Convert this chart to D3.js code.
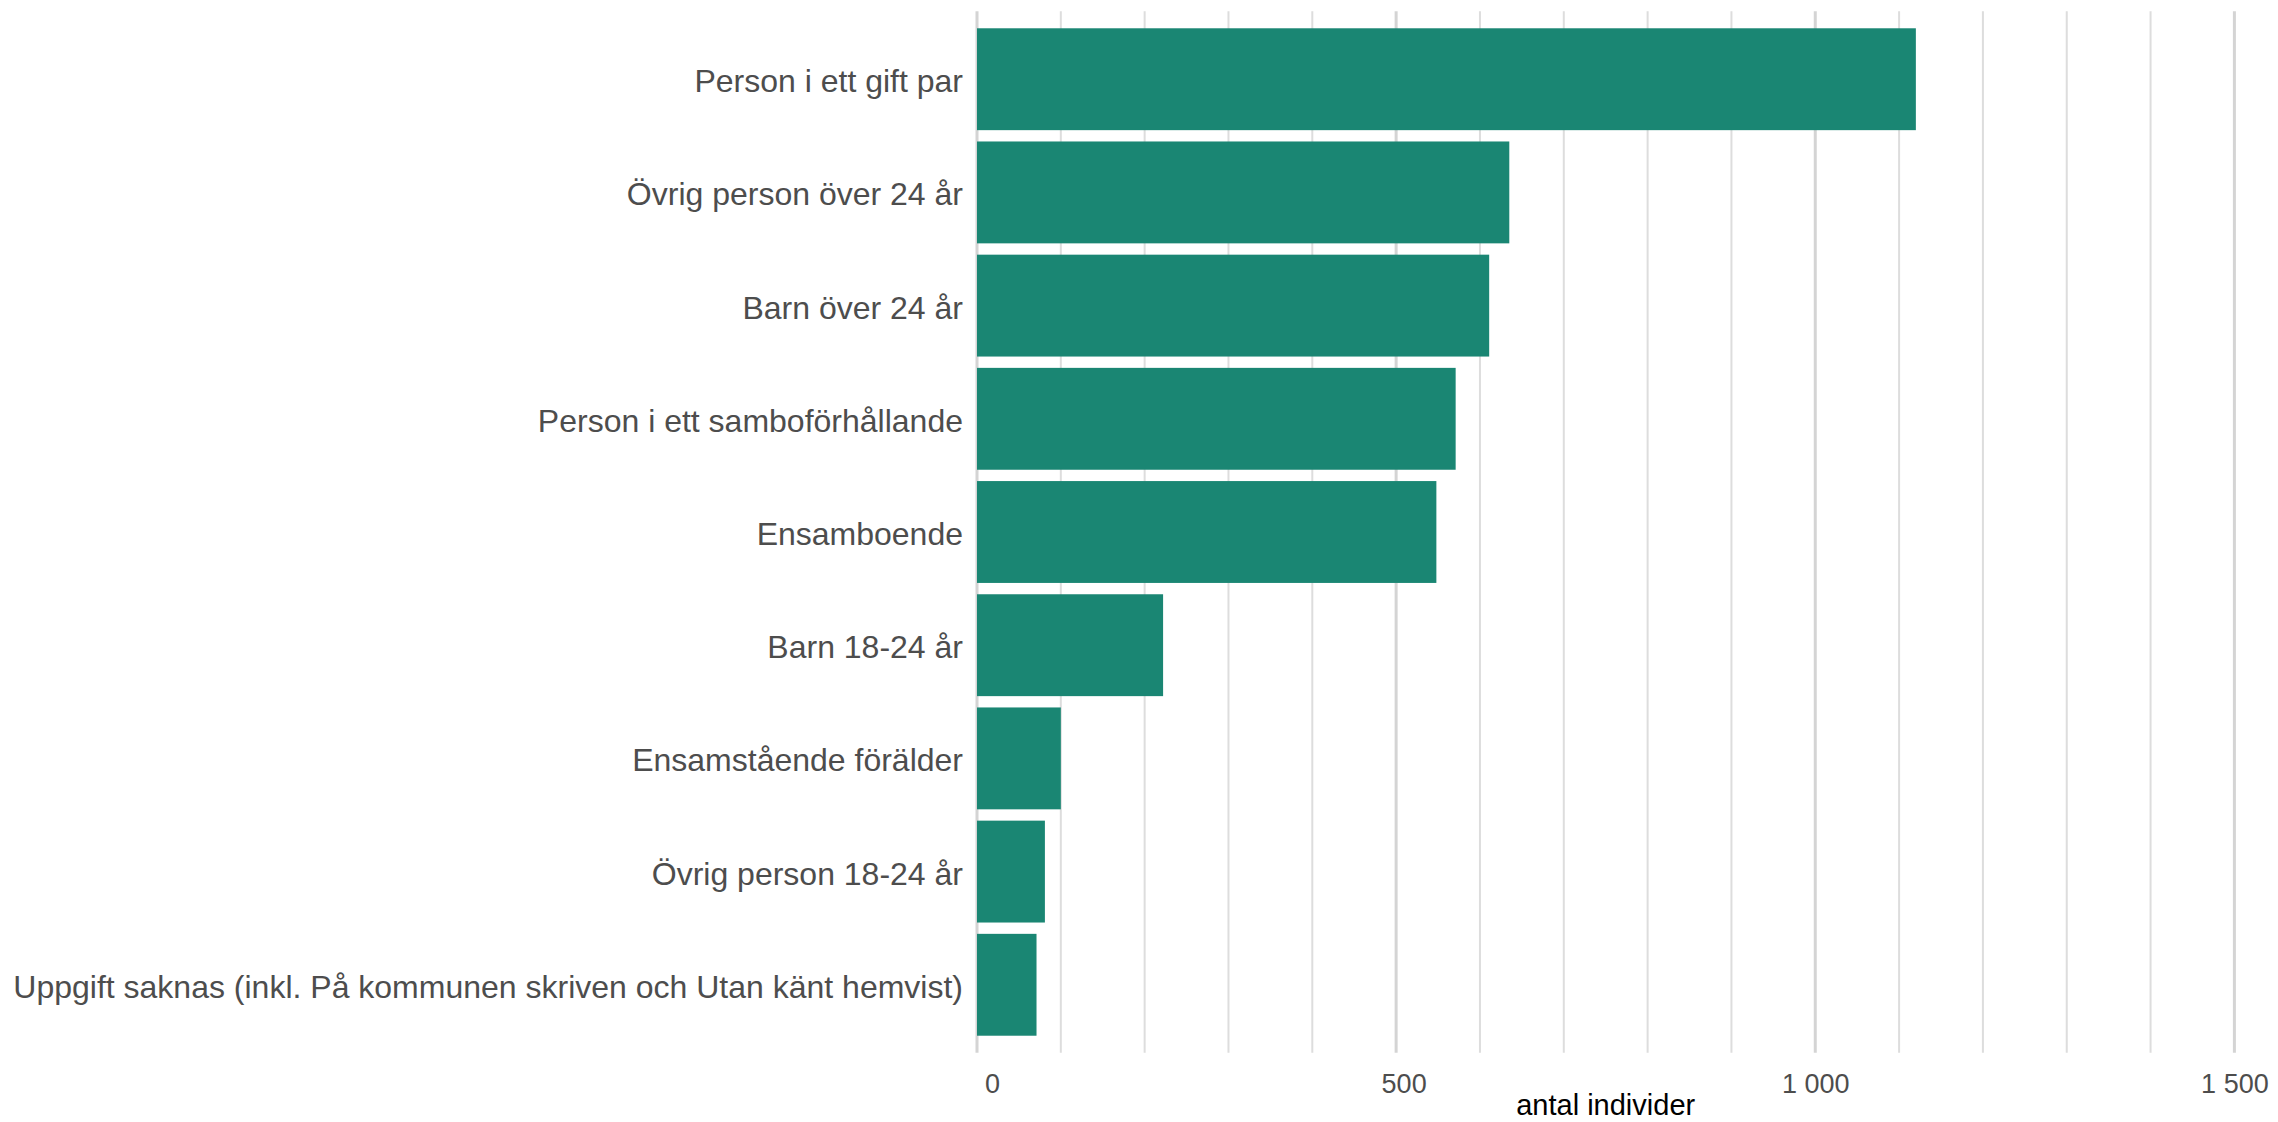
<!DOCTYPE html>
<html>
<head>
<meta charset="utf-8">
<script src="https://cdn.jsdelivr.net/npm/d3@7"></script>
<style>
    body { margin: 0; background: #fff; }
    text { font-family: "Liberation Sans", Arial, sans-serif; }
</style>
</head>
<body>
<div id="graph"></div>
<script>
/*
    Data
*/
var categories = [
    "Person i ett gift par",
    "Övrig person över 24 år",
    "Barn över 24 år",
    "Person i ett samboförhållande",
    "Ensamboende",
    "Barn 18-24 år",
    "Ensamstående förälder",
    "Övrig person 18-24 år",
    "Uppgift saknas (inkl. På kommunen skriven och Utan känt hemvist)"
]
var values = [1120, 635, 611, 571, 548, 222, 100, 81, 71]

var tickValues = [0, 500, 1000, 1500]
var tickLabels = ["    0", "  500", "1 000", "1 500"]

var axisTitle = "antal individer"

/*
    Dimensions
*/
var width = 2278,
    height = 1122

var panel = {left: 977, right: 2234.4, top: 11.3, bottom: 1052.7}

var svg = d3.select("#graph").append("svg")
            .attr("width", width)
            .attr("height", height)

/*
    Scales
*/
var x = d3.scaleLinear()
          .domain([0, 1500])
          .range([panel.left, panel.right])

var y = d3.scaleBand()
          .domain(categories)
          .range([panel.top, panel.bottom])
          .paddingInner(0.1)
          .paddingOuter(0.15)

/*
    Grid lines (minor every 100, major on the labelled ticks)
*/
svg.append("g")
    .attr("class", "grid minor")
    .selectAll("line")
    .data(x.ticks(15).filter(function(d) { return tickValues.indexOf(d) < 0 }))
    .enter().append("line")
    .attr("x1", function(d) { return x(d) })
    .attr("x2", function(d) { return x(d) })
    .attr("y1", panel.top)
    .attr("y2", panel.bottom)
    .attr("stroke", "#dddddd")
    .attr("stroke-width", 2)

svg.append("g")
    .attr("class", "grid major")
    .selectAll("line")
    .data(tickValues)
    .enter().append("line")
    .attr("x1", function(d) { return x(d) })
    .attr("x2", function(d) { return x(d) })
    .attr("y1", panel.top)
    .attr("y2", panel.bottom)
    .attr("stroke", "#d4d4d4")
    .attr("stroke-width", 3)

/*
    Bars
*/
svg.selectAll("rect.bar")
    .data(categories)
    .enter().append("rect")
    .attr("class", "bar")
    .attr("x", x(0))
    .attr("y", function(d) { return y(d) })
    .attr("width", function(d, i) { return x(values[i]) - x(0) })
    .attr("height", y.bandwidth())
    .attr("fill", "#1a8673")

/*
    Y axis (category labels)
*/
var yAxis = svg.append("g")
    .attr("class", "y axis")
    .attr("transform", "translate(" + (panel.left - 14) + ",0)")
    .call(d3.axisLeft(y).tickSize(0).tickPadding(0))

yAxis.select(".domain").remove()
yAxis.selectAll("text")
    .attr("x", 0)
    .attr("dy", null)
    .attr("y", 13)
    .attr("fill", "#4d4d4d")
    .style("font-size", "32px")
    .style("font-family", "'Liberation Sans', Arial, sans-serif")

/*
    X axis
*/
var xAxis = svg.append("g")
    .attr("class", "x axis")
    .attr("transform", "translate(0," + panel.bottom + ")")
    .call(d3.axisBottom(x)
            .tickValues(tickValues)
            .tickSize(0)
            .tickFormat(function(d, i) { return tickLabels[i] }))

xAxis.select(".domain").remove()
xAxis.selectAll("text")
    .attr("y", 40)
    .attr("dy", null)
    .attr("fill", "#4d4d4d")
    .style("white-space", "pre")
    .style("font-size", "27px")
    .style("font-family", "'Liberation Sans', Arial, sans-serif")

svg.append("text")
    .attr("class", "x title")
    .attr("x", (panel.left + panel.right) / 2)
    .attr("y", 1115)
    .attr("text-anchor", "middle")
    .attr("fill", "#000")
    .style("font-size", "29px")
    .text(axisTitle)
</script>
</body>
</html>
